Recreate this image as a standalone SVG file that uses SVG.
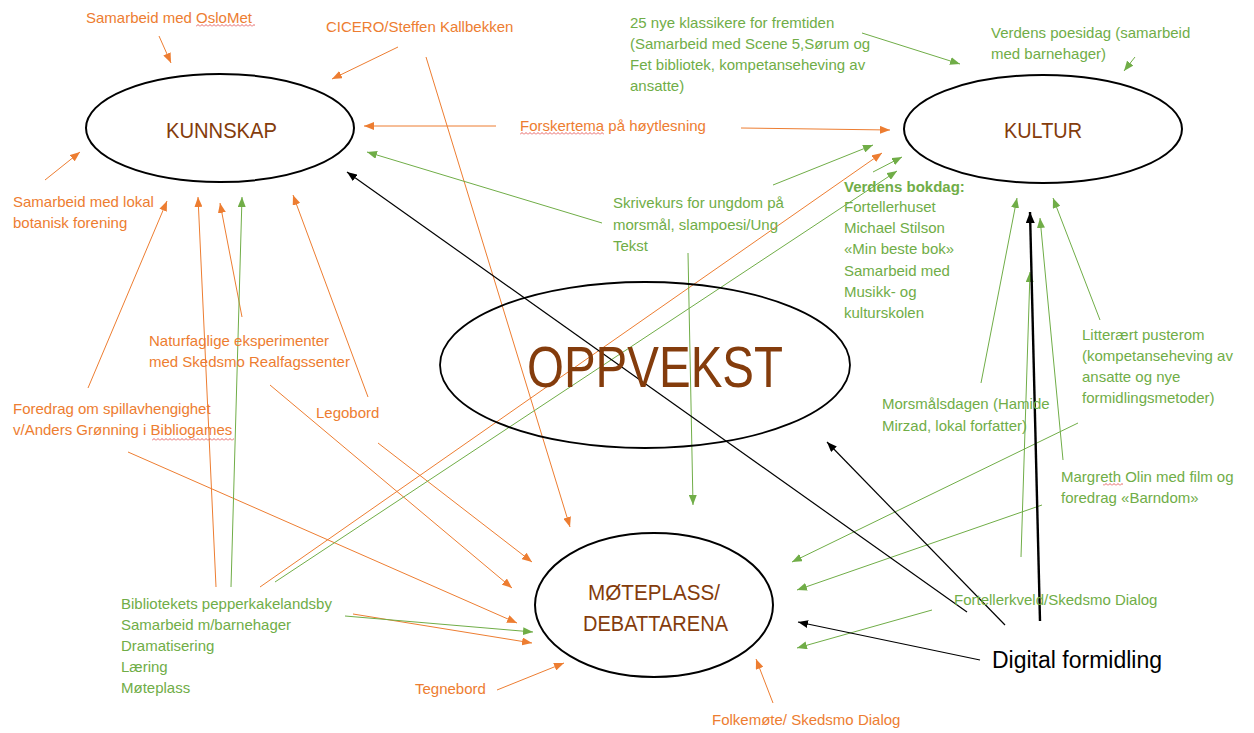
<svg xmlns="http://www.w3.org/2000/svg" width="1254" height="733" viewBox="0 0 1254 733">
<style>
  .t{font-family:"Liberation Sans",Arial,sans-serif;font-size:15px}
  .to{fill:#ED7D31}
  .tg{fill:#70AD47}
  .h{font-family:"Liberation Sans",Arial,sans-serif;font-size:22px;fill:#843C0C}
  .el{fill:none;stroke:#000;stroke-width:2}
  .o{stroke:#ED7D31;stroke-width:1;fill:none;marker-end:url(#ao)}
  .g{stroke:#70AD47;stroke-width:1;fill:none;marker-end:url(#ag)}
  .b{stroke:#000;stroke-width:1.2;fill:none;marker-end:url(#ab)}
  .bt{stroke:#000;stroke-width:2.4;fill:none;marker-end:url(#abt)}
</style>
<defs>
  <marker id="ao" markerUnits="userSpaceOnUse" markerWidth="10" markerHeight="8" refX="10" refY="4" orient="auto"><path d="M0,0 L10,4 L0,8 z" fill="#ED7D31"/></marker>
  <marker id="ag" markerUnits="userSpaceOnUse" markerWidth="10" markerHeight="8" refX="10" refY="4" orient="auto"><path d="M0,0 L10,4 L0,8 z" fill="#70AD47"/></marker>
  <marker id="ab" markerUnits="userSpaceOnUse" markerWidth="10" markerHeight="8" refX="10" refY="4" orient="auto"><path d="M0,0 L10,4 L0,8 z" fill="#000"/></marker>
  <marker id="abt" markerUnits="userSpaceOnUse" markerWidth="11" markerHeight="9" refX="11" refY="4.5" orient="auto"><path d="M0,0 L11,4.5 L0,9 z" fill="#000"/></marker>
  <pattern id="wave" patternUnits="userSpaceOnUse" width="4" height="3"><path d="M0,2.5 L2,0.5 L4,2.5" fill="none" stroke="#E03C3C" stroke-width="0.8"/></pattern>
</defs>
<rect width="1254" height="733" fill="#fff"/>

<g id="connectors">
  <line class="o" x1="159" y1="36" x2="171" y2="63"/>
  <line class="o" x1="398" y1="47" x2="332" y2="79"/>
  <line class="o" x1="426" y1="57" x2="570" y2="527"/>
  <line class="o" x1="496" y1="126" x2="364" y2="126"/>
  <line class="o" x1="741" y1="128" x2="890" y2="130"/>
  <line class="o" x1="45" y1="180" x2="80" y2="152"/>
  <line class="o" x1="88" y1="388" x2="167" y2="201"/>
  <line class="o" x1="216" y1="587" x2="198" y2="197"/>
  <line class="o" x1="242" y1="317" x2="220" y2="203"/>
  <line class="o" x1="368" y1="397" x2="293" y2="195"/>
  <line class="o" x1="270" y1="385" x2="512" y2="588"/>
  <line class="o" x1="378" y1="443" x2="532" y2="562"/>
  <line class="o" x1="128" y1="452" x2="517" y2="623"/>
  <line class="o" x1="353" y1="614" x2="532" y2="643"/>
  <line class="o" x1="260" y1="587" x2="882" y2="153"/>
  <line class="o" x1="497" y1="690" x2="564" y2="663"/>
  <line class="o" x1="773" y1="703" x2="756" y2="659"/>

  <line class="g" x1="602" y1="223" x2="367" y2="152"/>
  <line class="g" x1="773" y1="185" x2="873" y2="145"/>
  <line class="g" x1="873" y1="172" x2="902" y2="157"/>
  <line class="g" x1="275" y1="582" x2="897" y2="171"/>
  <line class="g" x1="688" y1="253" x2="693" y2="505"/>
  <line class="g" x1="231" y1="587" x2="242" y2="197"/>
  <line class="g" x1="345" y1="616" x2="533" y2="632"/>
  <line class="g" x1="862" y1="33" x2="960" y2="64"/>
  <line class="g" x1="1135" y1="57" x2="1124" y2="71"/>
  <line class="g" x1="981" y1="383" x2="1017" y2="198"/>
  <line class="g" x1="1100" y1="320" x2="1053" y2="198"/>
  <line class="g" x1="1063" y1="460" x2="1040" y2="218"/>
  <line class="g" x1="1021" y1="557" x2="1030" y2="272"/>
  <line class="g" x1="1078" y1="423" x2="792" y2="562"/>
  <line class="g" x1="1042" y1="505" x2="797" y2="590"/>
  <line class="g" x1="932" y1="610" x2="797" y2="648"/>

  <line class="b" x1="967" y1="612" x2="347" y2="172"/>
  <line class="b" x1="1005" y1="625" x2="827" y2="442"/>
  <line class="bt" x1="1040" y1="621" x2="1030" y2="212"/>
  <line class="b" x1="980" y1="660" x2="798" y2="622"/>
</g>

<g id="kunnskap">
  <ellipse class="el" cx="220" cy="128" rx="134" ry="54"/>
  <text class="h" x="166" y="138" textLength="111" lengthAdjust="spacingAndGlyphs">KUNNSKAP</text>
</g>
<g id="kultur">
  <ellipse class="el" cx="1043" cy="129" rx="139" ry="54"/>
  <text class="h" x="1004" y="138" textLength="78" lengthAdjust="spacingAndGlyphs">KULTUR</text>
</g>
<g id="oppvekst">
  <ellipse class="el" cx="645" cy="365" rx="205" ry="83" style="stroke-width:1.8"/>
  <text x="527" y="387" textLength="256" lengthAdjust="spacingAndGlyphs" style="font-family:'Liberation Sans',Arial,sans-serif;font-size:58px;fill:#843C0C">OPPVEKST</text>
</g>
<g id="moteplass">
  <ellipse class="el" cx="654" cy="605" rx="119" ry="72"/>
  <text class="h" x="588" y="600" textLength="132" lengthAdjust="spacingAndGlyphs">MØTEPLASS/</text>
  <text class="h" x="583" y="631" textLength="145" lengthAdjust="spacingAndGlyphs">DEBATTARENA</text>
</g>

<g id="oslomet">
  <text class="t to" x="86" y="23">Samarbeid med OsloMet</text>
  <rect x="196" y="24" width="59" height="3" fill="url(#wave)"/>
</g>
<g id="cicero">
  <text class="t to" x="326" y="32">CICERO/Steffen Kallbekken</text>
</g>
<g id="klassikere">
  <text class="t tg" x="630" y="28">25 nye klassikere for fremtiden</text>
  <text class="t tg" x="630" y="49">(Samarbeid med Scene 5,Sørum og</text>
  <text class="t tg" x="630" y="70">Fet bibliotek, kompetanseheving av</text>
  <text class="t tg" x="630" y="91">ansatte)</text>
</g>
<g id="poesidag">
  <text class="t tg" x="991" y="38">Verdens poesidag (samarbeid</text>
  <text class="t tg" x="991" y="59">med barnehager)</text>
</g>
<g id="forskertema">
  <text class="t to" x="520" y="131">Forskertema på høytlesning</text>
  <rect x="520" y="132" width="84" height="3" fill="url(#wave)"/>
</g>
<g id="botanisk">
  <text class="t to" x="13" y="207">Samarbeid med lokal</text>
  <text class="t to" x="13" y="228">botanisk forening</text>
</g>
<g id="skrivekurs">
  <text class="t tg" x="613" y="208">Skrivekurs for ungdom på</text>
  <text class="t tg" x="613" y="230">morsmål, slampoesi/Ung</text>
  <text class="t tg" x="613" y="251">Tekst</text>
</g>
<g id="bokdag">
  <text class="t tg" x="844" y="192" font-weight="bold">Verdens bokdag:</text>
  <text class="t tg" x="844" y="212">Fortellerhuset</text>
  <text class="t tg" x="844" y="233">Michael Stilson</text>
  <text class="t tg" x="844" y="254">«Min beste bok»</text>
  <text class="t tg" x="844" y="276">Samarbeid med</text>
  <text class="t tg" x="844" y="297">Musikk- og</text>
  <text class="t tg" x="844" y="318">kulturskolen</text>
</g>
<g id="naturfag">
  <text class="t to" x="149" y="346">Naturfaglige eksperimenter</text>
  <text class="t to" x="149" y="367">med Skedsmo Realfagssenter</text>
</g>
<g id="foredrag">
  <text class="t to" x="13" y="414">Foredrag om spillavhengighet</text>
  <text class="t to" x="13" y="435">v/Anders Grønning i Bibliogames</text>
  <rect x="152" y="438" width="82" height="3" fill="url(#wave)"/>
</g>
<g id="legobord">
  <text class="t to" x="316" y="418">Legobord</text>
</g>
<g id="pusterom">
  <text class="t tg" x="1082" y="340">Litterært pusterom</text>
  <text class="t tg" x="1082" y="361">(kompetanseheving av</text>
  <text class="t tg" x="1082" y="382">ansatte og nye</text>
  <text class="t tg" x="1082" y="403">formidlingsmetoder)</text>
</g>
<g id="morsmal">
  <text class="t tg" x="882" y="409">Morsmålsdagen (Hamide</text>
  <text class="t tg" x="882" y="431">Mirzad, lokal forfatter)</text>
</g>
<g id="margreth">
  <text class="t tg" x="1061" y="482">Margreth Olin med film og</text>
  <text class="t tg" x="1061" y="503">foredrag «Barndom»</text>
  <rect x="1103" y="483" width="20" height="3" fill="url(#wave)"/>
</g>
<g id="fortellerkveld">
  <text class="t tg" x="954" y="605">Fortellerkveld/Skedsmo Dialog</text>
</g>
<g id="digital">
  <text x="992" y="668" style="font-family:'Liberation Sans',Arial,sans-serif;font-size:23px;fill:#000">Digital formidling</text>
</g>
<g id="pepperkake">
  <text class="t tg" x="121" y="609">Bibliotekets pepperkakelandsby</text>
  <text class="t tg" x="121" y="630">Samarbeid m/barnehager</text>
  <text class="t tg" x="121" y="651">Dramatisering</text>
  <text class="t tg" x="121" y="672">Læring</text>
  <text class="t tg" x="121" y="693">Møteplass</text>
</g>
<g id="tegnebord">
  <text class="t to" x="415" y="694">Tegnebord</text>
</g>
<g id="folkemote">
  <text class="t to" x="712" y="725">Folkemøte/ Skedsmo Dialog</text>
</g>
</svg>
